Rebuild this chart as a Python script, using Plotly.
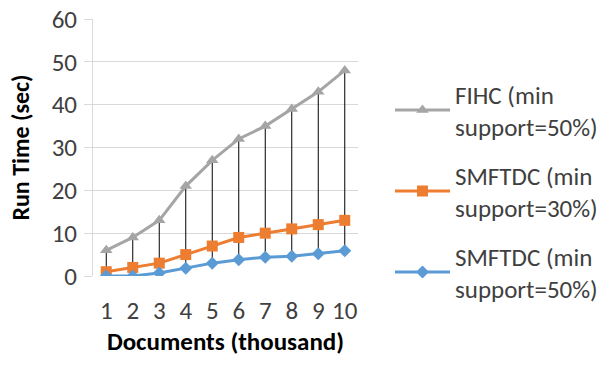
import plotly.graph_objects as go

docs = [1, 2, 3, 4, 5, 6, 7, 8, 9, 10]
fihc_50 = [6, 9, 13, 21, 27, 32, 35, 39, 43, 48]
smftdc_30 = [1, 2, 3, 5, 7, 9, 10, 11, 12, 13]
smftdc_50 = [0, 0, 0.7, 1.8, 3, 3.8, 4.4, 4.6, 5.2, 5.9]

names = ["FIHC (min<br>support=50%)", "SMFTDC (min<br>support=30%)", "SMFTDC (min<br>support=50%)"]
colors = ["#A5A5A5", "#ED7D31", "#5B9BD5"]
symbols = ["triangle-up", "square", "diamond"]

FONT = "Carlito, Calibri, 'Noto Sans', sans-serif"
FS = 25
W, H = 601, 365

fig = go.Figure()

# high-low drop lines
dx, dy = [], []
for x, hi, lo in zip(docs, fihc_50, smftdc_50):
    dx += [x, x, None]
    dy += [hi, lo, None]
fig.add_trace(go.Scatter(x=dx, y=dy, mode="lines", line=dict(color="black", width=1),
                         showlegend=False, hoverinfo="skip"))

for i, (vals, name) in enumerate(zip([fihc_50, smftdc_30, smftdc_50], names)):
    fig.add_trace(go.Scatter(
        x=docs, y=vals, name=name, mode="lines+markers",
        line=dict(color=colors[i], width=3),
        marker=dict(symbol=symbols[i], size=11 if i != 2 else 10, color=colors[i]),
        legendgroup=str(i),
    ))

fig.update_layout(
    width=W, height=H,
    margin=dict(l=93, r=243, t=19, b=89),
    paper_bgcolor="white", plot_bgcolor="white",
    font=dict(family=FONT, size=FS, color="#404040"),
    showlegend=True,
    legend=dict(
        xref="container", yref="container",
        x=390 / W, y=1 - 71 / H, xanchor="left", yanchor="top",
        font=dict(family=FONT, size=FS, color="#404040"),
        traceorder="grouped", tracegroupgap=13, itemwidth=55,
        bgcolor="rgba(0,0,0,0)", maxheight=360,
    ),
    xaxis=dict(
        range=[0.5, 10.5], tickmode="array", tickvals=docs, ticktext=[str(d) for d in docs],
        showgrid=False, zeroline=False, showline=False, ticks="",
        ticklabelstandoff=17, automargin=False,
        title=dict(text="<b>Documents (thousand)</b>", font=dict(family=FONT, size=FS, color="black"), standoff=5),
    ),
    yaxis=dict(
        range=[0, 60], tickvals=[0, 10, 20, 30, 40, 50, 60],
        showgrid=True, gridcolor="#D9D9D9", gridwidth=1,
        zeroline=False, showline=True, linecolor="#D9D9D9", linewidth=1,
        ticks="outside", ticklen=8, tickcolor="#D9D9D9",
        ticklabelstandoff=2, automargin=False,
        title=dict(text="<b>Run Time (sec)</b>", font=dict(family=FONT, size=24, color="black"), standoff=15),
    ),
)

fig.write_html("out.html", config={"displayModeBar": False},
               post_script="document.body.style.margin='0';document.body.style.overflow='hidden';")
